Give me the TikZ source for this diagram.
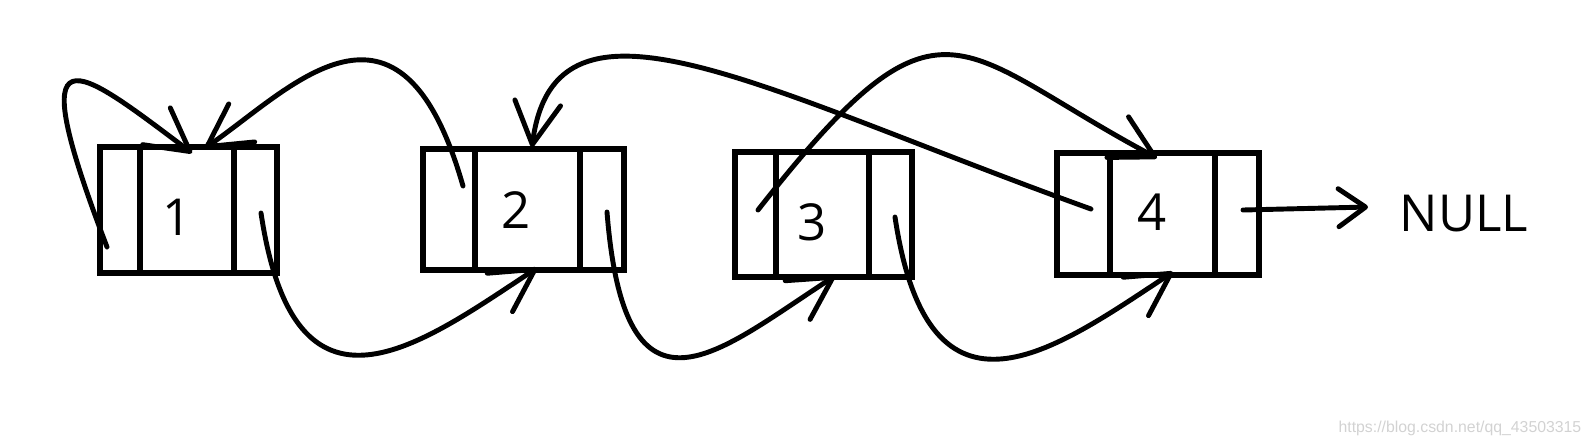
\documentclass[tikz,border=0pt]{standalone}
\usepackage{fontspec}
\setmainfont{Open Sans}
\newfontfamily\urlfont{Liberation Sans}
\usetikzlibrary{positioning,arrows.meta}
\tikzset{
  cell/.style={draw, line width=1.6pt, outer sep=0pt, inner sep=0pt},
  ptr/.style={line width=1.4pt, line cap=round, -{Straight Barb[length=4.2mm,width=4.6mm,round]}},
  nullptr/.style={line width=1.4pt, line cap=round, -{Straight Barb[length=2.7mm,width=3.8mm,round]}},
  num/.style={font=\fontsize{14.5pt}{17pt}\selectfont},
  wmark/.style={text=gray!35, font=\urlfont\fontsize{4.5pt}{5pt}\selectfont}
}
\begin{document}
\begin{tikzpicture}
\useasboundingbox (0,0) rectangle (15.92,4.46);

\node [cell, minimum width=0.94cm, minimum height=1.26cm, label={[num, shift={(-0.10,-0.07)}]center:1}] (d1) at (1.87,2.36) {};
\node [cell, minimum width=0.40cm, minimum height=1.26cm, left=0pt of d1] (p1) {};
\node [cell, minimum width=0.43cm, minimum height=1.26cm, right=0pt of d1] (n1) {};

\node [cell, minimum width=1.05cm, minimum height=1.21cm, label={[num, shift={(-0.115,-0.005)}]center:2}] (d2) at (5.275,2.365) {};
\node [cell, minimum width=0.52cm, minimum height=1.21cm, left=0pt of d2] (p2) {};
\node [cell, minimum width=0.44cm, minimum height=1.21cm, right=0pt of d2] (n2) {};

\node [cell, minimum width=0.93cm, minimum height=1.25cm, label={[num, shift={(-0.105,-0.075)}]center:3}] (d3) at (8.225,2.315) {};
\node [cell, minimum width=0.41cm, minimum height=1.25cm, left=0pt of d3] (p3) {};
\node [cell, minimum width=0.43cm, minimum height=1.25cm, right=0pt of d3] (n3) {};

\node [cell, minimum width=1.05cm, minimum height=1.22cm, label={[num, shift={(-0.105,0.02)}]center:4}] (d4) at (11.625,2.32) {};
\node [cell, minimum width=0.53cm, minimum height=1.22cm, left=0pt of d4] (p4) {};
\node [cell, minimum width=0.44cm, minimum height=1.22cm, right=0pt of d4] (n4) {};

\node [num, inner sep=0pt, anchor=west] (null) at (13.99,2.325) {NULL};
\node [wmark, inner sep=0pt, anchor=base east] (url) at (15.82,0.14) {https://blog.csdn.net/qq\_43503315};

\draw [ptr] ([shift={(-0.13,-0.37)}]p1.center) .. controls +(-0.87,2.27) and +(-1.17,0.88) .. ([shift={(0.05,-0.06)}]d1.north);
\draw [ptr] ([shift={(0.055,-0.03)}]n1.center) .. controls +(0.34,-2.27) and +(-1.17,-0.77) .. ([shift={(0.095,0.02)}]d2.south);
\draw [ptr] ([shift={(0.14,0.235)}]p2.center) .. controls +(-0.63,2.21) and +(0.85,0.58) .. ([shift={(0.18,-0.01)}]d1.north);
\draw [ptr] ([shift={(0.05,-0.025)}]n2.center) .. controls +(0.18,-2.28) and +(-1.15,-0.74) .. ([shift={(0.125,0.01)}]d3.south);
\draw [ptr] ([shift={(0.025,0.045)}]p3.center) .. controls +(1.85,2.36) and +(-2.03,1.08) .. ([shift={(-0.055,-0.05)}]d4.north);
\draw [ptr] ([shift={(0.045,-0.025)}]n3.center) .. controls +(0.34,-2.27) and +(-1.17,-0.77) .. ([shift={(0.105,0.03)}]d4.south);
\draw [ptr] ([shift={(0.075,0.05)}]p4.center) .. controls +(-3.31,1.19) and +(0.23,1.77) .. ([shift={(0.045,0.02)}]d2.north);
\draw [nullptr] ([shift={(0.06,0.04)}]n4.center) -- ([shift={(-0.31,0.065)}]null.west);
\end{tikzpicture}
\end{document}
